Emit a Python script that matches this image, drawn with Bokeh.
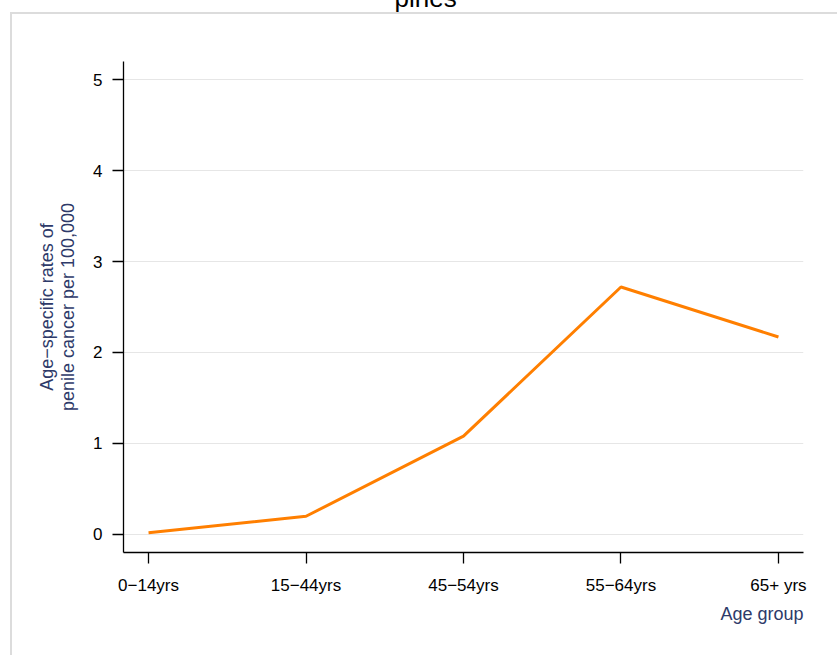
from bokeh.plotting import figure
from bokeh.models import FixedTicker, Range1d, Title
from bokeh.embed import file_html
from bokeh.resources import INLINE

# Age-specific rates of penile cancer per 100,000, by age group
age_groups = ["0\u221214yrs", "15\u221244yrs", "45\u221254yrs", "55\u221264yrs", "65+ yrs"]
rates = [0.02, 0.20, 1.08, 2.72, 2.17]
y_ticks = [0, 1, 2, 3, 4, 5]
title = "pines"

FONT = "Liberation Sans"
NAVY = "#2e3a69"
ORANGE = "#ff7f00"
FRAME_GRAY = "#dcdcdc"

xs = list(range(len(age_groups)))
pad_x = 0.159
pad_y = 0.198
shift = 80  # canvas is pulled up by this much, so the title runs off the top

# light-gray graph-region border drawn behind the (transparent) canvas
border_css = {
    "background-color": "white",
    "background-image": f"linear-gradient({FRAME_GRAY}, {FRAME_GRAY}), "
                        f"linear-gradient({FRAME_GRAY}, {FRAME_GRAY})",
    "background-size": "2px 100%, 100% 2px",
    "background-position": f"10px {12 + shift}px, 10px {12 + shift}px",
    "background-repeat": "no-repeat",
}

p = figure(
    width=837, height=655 + shift,
    output_backend="svg", toolbar_location=None,
    x_range=Range1d(xs[0] - pad_x, xs[-1] + pad_x),
    y_range=Range1d(y_ticks[0] - pad_y, y_ticks[-1] + pad_y),
    min_border_left=123, min_border_right=34,
    min_border_top=61 + shift, min_border_bottom=103,
    margin=(-shift, 0, 0, 0),
    styles=border_css,
)
p.outline_line_color = None
p.background_fill_color = "white"
p.border_fill_color = None

p.line(xs, rates, line_color=ORANGE, line_width=3)

# x axis: categorical age groups on integer positions
p.xaxis.ticker = FixedTicker(ticks=xs)
p.xaxis.major_label_overrides = {x: lab for x, lab in zip(xs, age_groups)}
p.yaxis.ticker = FixedTicker(ticks=y_ticks)

for ax in (p.xaxis[0], p.yaxis[0]):
    ax.axis_line_color = "black"
    ax.axis_line_width = 1.3
    ax.major_tick_line_color = "black"
    ax.major_tick_line_width = 1.3
    ax.major_tick_out = 11
    ax.major_tick_in = 0
    ax.minor_tick_line_color = None
    ax.major_label_text_font = FONT
    ax.major_label_text_font_size = "17px"
    ax.major_label_text_color = "black"

p.xaxis.major_label_standoff = 12
p.yaxis.major_label_standoff = 10

p.yaxis.axis_label = "Age\u2212specific rates of\npenile cancer per 100,000"
p.yaxis.axis_label_text_font = FONT
p.yaxis.axis_label_text_font_size = "18px"
p.yaxis.axis_label_text_font_style = "normal"
p.yaxis.axis_label_text_color = NAVY
p.yaxis.axis_label_text_line_height = 1.05
p.yaxis.axis_label_standoff = 12

# x axis title, right-aligned under the end of the axis
p.add_layout(Title(
    text="Age group", align="right", offset=0, standoff=9,
    text_font=FONT, text_font_size="18px", text_font_style="normal",
    text_color=NAVY,
), "below")

p.xgrid.grid_line_color = None
p.ygrid.grid_line_color = "#e6e6e6"
p.ygrid.grid_line_width = 1

# graph title
p.title.text = title
p.title.align = "left"
p.title.offset = 271
p.title.standoff = 97
p.title.text_font = FONT
p.title.text_font_size = "26px"
p.title.text_font_style = "normal"
p.title.text_color = "black"

open("out.html", "w").write(file_html(p, INLINE))
